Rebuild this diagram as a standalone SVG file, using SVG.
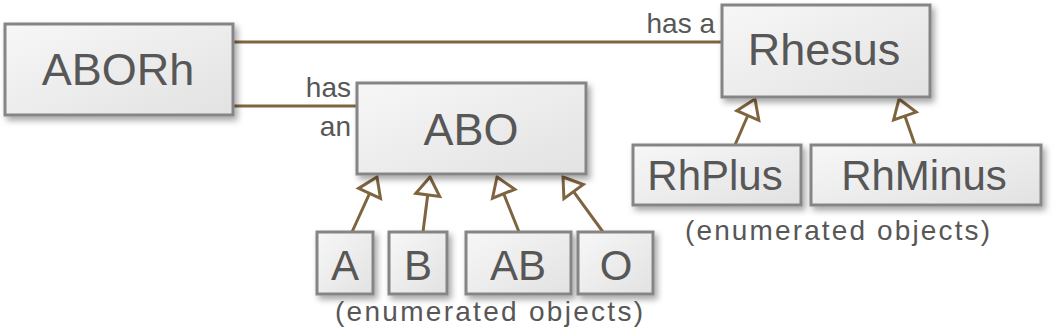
<svg xmlns="http://www.w3.org/2000/svg" width="1060" height="336" viewBox="0 0 1060 336">
<defs>
<linearGradient id="g" x1="0" y1="0" x2="1" y2="1">
<stop offset="0" stop-color="#f7f7f7"/>
<stop offset="1" stop-color="#e2e2e2"/>
</linearGradient>
<filter id="sh" x="-10%" y="-10%" width="130%" height="140%">
<feDropShadow dx="3" dy="4" stdDeviation="3" flood-color="#000" flood-opacity="0.35"/>
</filter>
<style>
.box{fill:url(#g);stroke:#858585;stroke-width:3;filter:url(#sh)}
.t{font-family:"Liberation Sans",Arial,sans-serif;fill:#575757;text-anchor:middle}
.big{font-size:45px}
.mid{font-size:42px}
.lab{font-family:"Liberation Sans",Arial,sans-serif;fill:#575757;font-size:28px}
.c{stroke:#7f6440;stroke-width:3;fill:none}
.h{fill:#fff;stroke:#7f6440;stroke-width:3;stroke-linejoin:miter}
</style>
</defs>
<g id="connectors">
<line class="c" x1="233" y1="42" x2="722" y2="42"/>
<line class="c" x1="233" y1="106" x2="357" y2="106"/>
<line class="c" x1="735" y1="145" x2="747.8" y2="115.5"/>
<polygon class="h" points="755,99 758.8,120.3 736.8,110.7"/>
<line class="c" x1="915" y1="145" x2="904.9" y2="116"/>
<polygon class="h" points="899,99 916.2,112.1 893.6,119.9"/>
<line class="c" x1="352" y1="232" x2="369.6" y2="193.4"/>
<polygon class="h" points="377,177 380.5,198.4 358.6,188.4"/>
<line class="c" x1="423" y1="232" x2="427.7" y2="194.9"/>
<polygon class="h" points="430,177 439.6,196.4 415.8,193.3"/>
<line class="c" x1="519" y1="232" x2="503.7" y2="193.7"/>
<polygon class="h" points="497,177 514.8,189.3 492.5,198.2"/>
<line class="c" x1="603" y1="232" x2="573.6" y2="191.6"/>
<polygon class="h" points="563,177 583.3,184.5 563.9,198.6"/>
<text class="lab" x="715" y="33" text-anchor="end">has a</text>
<text class="lab" x="351" y="97" text-anchor="end">has</text>
<text class="lab" x="351" y="136" text-anchor="end">an</text>
</g>
<g id="ABORh"><rect class="box" x="5" y="24" width="228" height="91"/><text class="t big" x="118" y="85">ABORh</text></g>
<g id="ABO"><rect class="box" x="357" y="83" width="229" height="91"/><text class="t big" x="471" y="145">ABO</text></g>
<g id="Rhesus"><rect class="box" x="722" y="5" width="208" height="92"/><text class="t big" x="824" y="65">Rhesus</text></g>
<g id="RhPlus"><rect class="box" x="633" y="145" width="168" height="60"/><text class="t mid" x="715" y="190">RhPlus</text></g>
<g id="RhMinus"><rect class="box" x="811" y="145" width="230" height="60"/><text class="t mid" x="924" y="190">RhMinus</text></g>
<g id="A"><rect class="box" x="317" y="232" width="56" height="62"/><text class="t mid" x="345" y="280">A</text></g>
<g id="B"><rect class="box" x="389" y="232" width="58" height="62"/><text class="t mid" x="418" y="280">B</text></g>
<g id="AB"><rect class="box" x="466" y="232" width="105" height="62"/><text class="t mid" x="518" y="280">AB</text></g>
<g id="O"><rect class="box" x="578" y="232" width="75" height="62"/><text class="t mid" x="616" y="280">O</text></g>
<text class="lab" x="685" y="240" textLength="305" lengthAdjust="spacing">(enumerated objects)</text>
<text class="lab" x="335" y="321" textLength="308" lengthAdjust="spacing">(enumerated objects)</text>
</svg>
